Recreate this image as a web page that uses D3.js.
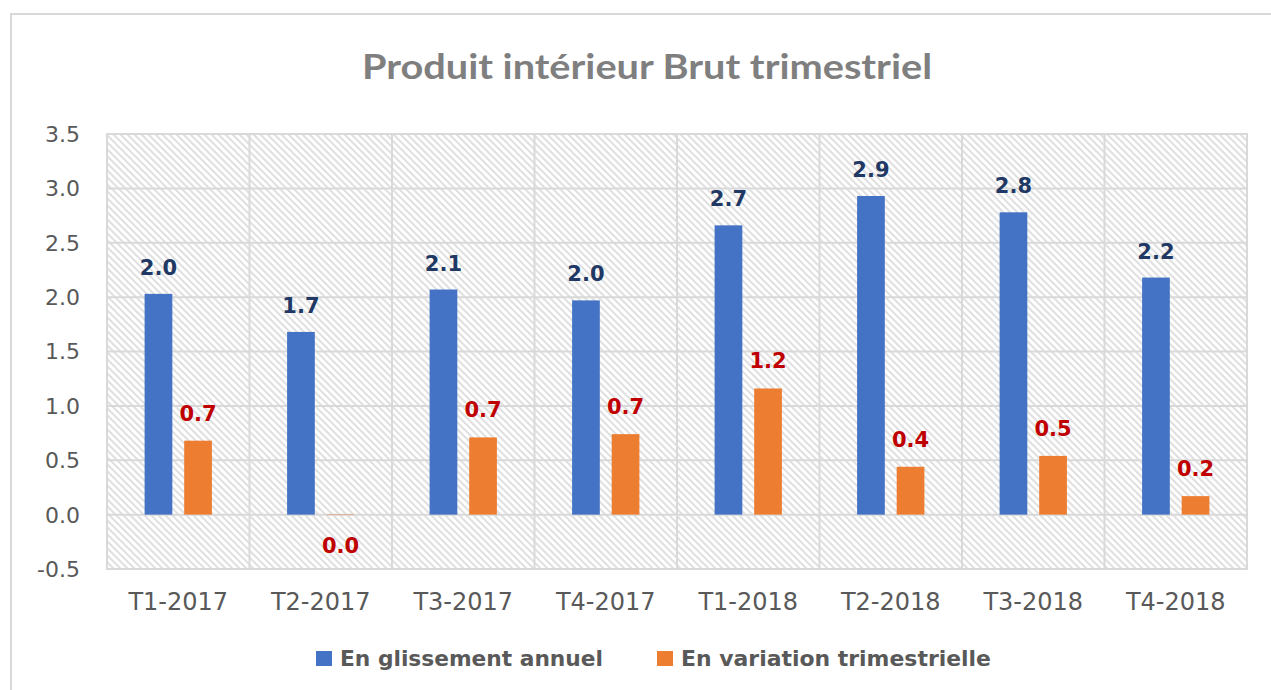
<!DOCTYPE html>
<meta charset="utf-8">
<style>
body { margin: 0; background: #fff; }
svg { display: block; }
</style>
<svg width="1271" height="690"></svg>
<script src="https://d3js.org/d3.v7.min.js"></script>
<script>

var title = "Produit intérieur Brut trimestriel"
var quarters = ["T1-2017", "T2-2017", "T3-2017", "T4-2017", "T1-2018", "T2-2018", "T3-2018", "T4-2018"]
var seriesNames = ["En glissement annuel", "En variation trimestrielle"]
var annual = [2.03, 1.68, 2.07, 1.97, 2.66, 2.93, 2.78, 2.18]
var quarterly = [0.68, -0.004, 0.71, 0.74, 1.16, 0.44, 0.54, 0.17]
var yTicks = [-0.5, 0, 0.5, 1, 1.5, 2, 2.5, 3, 3.5]

var barColors = ["#4472C4", "#ED7D31"]
var labelColors = ["#1F3864", "#C00000"]
var grid = "#d9d9d9"

var svg = d3.select("svg")

// outer chart frame (runs off the picture on right and bottom)
svg.append("rect")
    .attr("x", 11).attr("y", 14)
    .attr("width", 1300).attr("height", 720)
    .attr("fill", "none")
    .attr("stroke", grid)
    .attr("stroke-width", 2)

// hatch pattern for plot background
var pat = svg.append("defs").append("pattern")
    .attr("id", "hatch")
    .attr("patternUnits", "userSpaceOnUse")
    .attr("width", 7).attr("height", 7)
pat.append("path")
    .attr("d", "M-1,-1 L8,8 M-1,6 L1,8 M6,-1 L8,1")
    .attr("stroke", "#e0e0e0")
    .attr("stroke-width", 2)

var x0 = d3.scaleBand().domain(quarters).range([107, 1247])
var x1 = d3.scaleBand().domain([0, 1]).range([0, x0.bandwidth()])
    .paddingInner(0.3).paddingOuter(0.95)
var y = d3.scaleLinear().domain([-0.5, 3.5]).range([569, 134])
var fmt = function(v) { return d3.format(".1f")(v).replace("\u2212", "-") }

svg.append("rect")
    .attr("x", 107).attr("y", y(3.5))
    .attr("width", 1247 - 107).attr("height", y(-0.5) - y(3.5))
    .attr("fill", "url(#hatch)")

// horizontal gridlines
svg.append("g").selectAll("line")
    .data(yTicks).enter().append("line")
    .attr("x1", 107).attr("x2", 1247)
    .attr("y1", function(d) { return y(d) }).attr("y2", function(d) { return y(d) })
    .attr("stroke", grid).attr("stroke-width", 2)

// vertical gridlines at category boundaries
var bounds = quarters.map(function(q) { return x0(q) }).concat([x0.range()[1]])
svg.append("g").selectAll("line")
    .data(bounds).enter().append("line")
    .attr("x1", function(d) { return d }).attr("x2", function(d) { return d })
    .attr("y1", y(3.5) - 1).attr("y2", y(-0.5) + 1)
    .attr("stroke", grid).attr("stroke-width", 2)

// y tick labels
svg.append("g").selectAll("text")
    .data(yTicks).enter().append("text")
    .attr("x", 80)
    .attr("y", function(d) { return y(d) })
    .attr("dy", "0.36em")
    .attr("text-anchor", "end")
    .style("font-family", "DejaVu Sans")
    .style("font-size", "22px")
    .style("fill", "#595959")
    .text(function(d) { return fmt(d) })

// x labels
svg.append("g").selectAll("text")
    .data(quarters).enter().append("text")
    .attr("x", function(d) { return x0(d) + x0.bandwidth() / 2 })
    .attr("y", 610)
    .attr("text-anchor", "middle")
    .style("font-family", "DejaVu Sans")
    .style("font-size", "24px")
    .style("fill", "#595959")
    .text(function(d) { return d })

// bars + labels
var series = [annual, quarterly]
series.forEach(function(vals, s) {
  var g = svg.append("g")
  var data = vals.map(function(v, i) { return {q: quarters[i], v: v} })
  g.selectAll("rect")
    .data(data).enter().append("rect")
    .attr("x", function(d) { return x0(d.q) + x1(s) })
    .attr("width", x1.bandwidth())
    .attr("y", function(d) { return y(Math.max(0, d.v)) })
    .attr("height", function(d) { return Math.abs(y(d.v) - y(0)) })
    .attr("fill", barColors[s])
  g.selectAll("text")
    .data(data).enter().append("text")
    .attr("x", function(d) { return x0(d.q) + x1(s) + x1.bandwidth() / 2 })
    .attr("y", function(d) { return d.v >= 0 ? y(d.v) - (s ? 20 : 19) : y(d.v) + 38 })
    .attr("text-anchor", "middle")
    .style("font-family", "DejaVu Sans")
    .style("font-weight", "bold")
    .style("font-size", "21px")
    .style("fill", labelColors[s])
    .text(function(d) { return fmt(d.v) })
})

// title
svg.append("text")
    .attr("x", 647).attr("y", 79)
    .attr("text-anchor", "middle")
    .attr("textLength", 570)
    .attr("lengthAdjust", "spacingAndGlyphs")
    .style("font-family", "Lato")
    .style("font-weight", "bold")
    .style("font-size", "35px")
    .style("fill", "#7f7f7f")
    .text(title)

// legend
var legendX = [316, 657], legendW = [263, 310]
var legend = svg.append("g").selectAll("g")
    .data(seriesNames).enter().append("g")
    .attr("transform", function(d, i) { return "translate(" + legendX[i] + ",651)" })
legend.append("rect")
    .attr("width", 16).attr("height", 15)
    .attr("fill", function(d, i) { return barColors[i] })
legend.append("text")
    .attr("x", 24).attr("y", 15)
    .attr("textLength", function(d, i) { return legendW[i] })
    .attr("lengthAdjust", "spacingAndGlyphs")
    .style("font-family", "DejaVu Sans")
    .style("font-weight", "bold")
    .style("font-size", "21px")
    .style("fill", "#595959")
    .text(function(d) { return d })

</script>
</html>
